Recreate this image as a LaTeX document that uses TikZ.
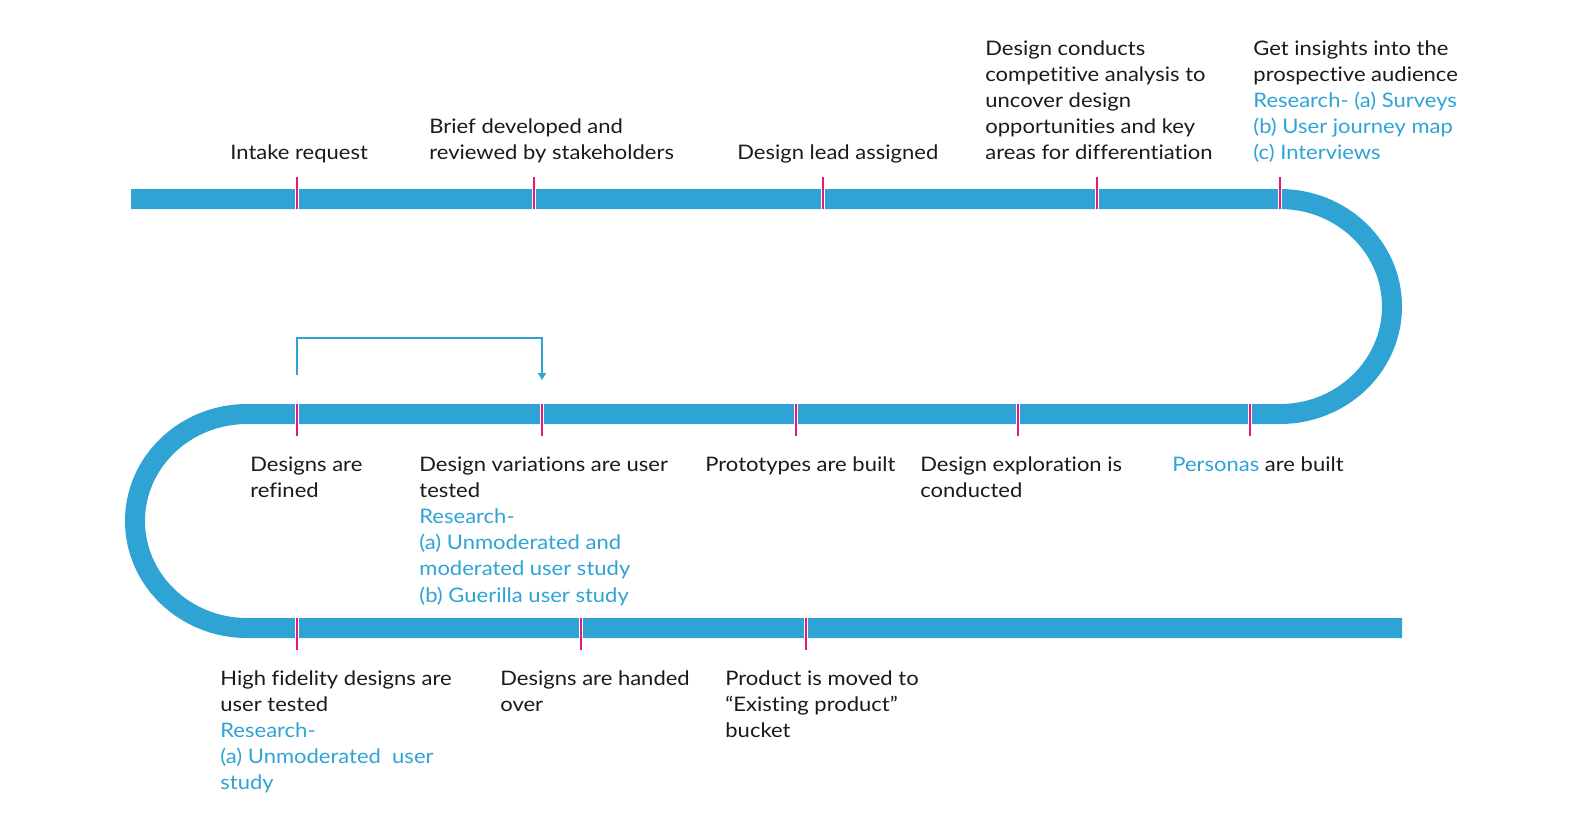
\documentclass[tikz,border=0pt]{standalone}
\usepackage{fontspec}
\setmainfont{Lato}[FakeStretch=1.1, Ligatures=NoCommon]
\usetikzlibrary{arrows.meta, positioning}
\definecolor{bandblue}{HTML}{2EA3D4}
\definecolor{tickpink}{HTML}{E5197D}
\definecolor{inkgray}{HTML}{1A1A1A}
\tikzset{
	x=0.5pt, y=-0.5pt, % one unit is one pixel of the sketch, y runs down
	band/.style={line width=10pt, draw=bandblue}, % the winding timeline
	tickgap/.style={line width=2pt, draw=white}, % white gap round a tick
	tickmark/.style={line width=1pt, draw=tickpink}, % the pink tick itself
	milestone/.style={anchor=north west, inner sep=0pt, align=left, text=inkgray, font=\fontsize{10}{13.1}\selectfont}, % text under/over a tick
	loopback/.style={line width=1pt, draw=bandblue, -{Triangle[length=3.5pt, width=4pt]}}, % the iterate arrow
}
\newcommand{\res}[1]{\textcolor{bandblue}{#1}}

\begin{document}
\begin{tikzpicture}
	\useasboundingbox (0,0) rectangle (1580,837);
	% ticks on the three runs
	\coordinate (t1) at (297,199);
	\coordinate (t2) at (534,199);
	\coordinate (t3) at (823,199);
	\coordinate (t4) at (1097,199);
	\coordinate (t5) at (1280,199);
	\coordinate (m1) at (297,414);
	\coordinate (m2) at (542,414);
	\coordinate (m3) at (796,414);
	\coordinate (m4) at (1018,414);
	\coordinate (m5) at (1250,414);
	\coordinate (b1) at (297,628);
	\coordinate (b2) at (581,628);
	\coordinate (b3) at (806,628);
	\coordinate (bandstart) at (131,199);
	\coordinate (bandend) at (1402,628);
	\draw[band] (bandstart) -- (t5)
		arc[start angle=90, end angle=-90, x radius=56pt, y radius=53.75pt] -- (247,414)
		arc[start angle=90, end angle=270, x radius=56pt, y radius=53.5pt] -- (bandend);
	\foreach \t in {t1,t2,t3,t4,t5}{
		\draw[tickgap] ([yshift=11pt]\t) -- ([yshift=-5pt]\t);
		\draw[tickmark] ([yshift=11pt]\t) -- ([yshift=-5pt]\t);
	}
	\foreach \t in {m1,m2,m3,m4,m5,b1,b2,b3}{
		\draw[tickgap] ([yshift=5pt]\t) -- ([yshift=-11pt]\t);
		\draw[tickmark] ([yshift=5pt]\t) -- ([yshift=-11pt]\t);
	}
	% loop back from refine to user tests
	\coordinate (lpA) at (297,375);
	\coordinate (lpB) at (542,380);
	\draw[loopback] (lpA) -- ++(0,-37) -| (lpB);
	% labels
	\node[milestone] (intake) at (230,144) {Intake request};
	\node[milestone] (brief) at (429,118) {Brief developed and\\reviewed by stakeholders};
	\node[milestone] (lead) at (737,144) {Design lead assigned};
	\node[milestone] (compete) at (985,40) {Design conducts\\competitive analysis to\\uncover design\\opportunities and key\\areas for differentiation};
	\node[milestone] (insight) at (1253,40) {Get insights into the\\prospective audience\\\res{Research- (a) Surveys}\\\res{(b) User journey map}\\\res{(c) Interviews}};
	\node[milestone] (refine) at (250,456) {Designs are\\refined};
	\node[milestone] (variation) at (419,456) {Design variations are user\\tested\\\res{Research-}\\\res{(a) Unmoderated and}\\\res{moderated user study}\\\res{(b) Guerilla user study}};
	\node[milestone] (proto) at (705,456) {Prototypes are built};
	\node[milestone] (explore) at (920,456) {Design exploration is\\conducted};
	\node[milestone] (persona) at (1172,456) {\res{Personas} are built};
	\node[milestone] (hifi) at (220,670) {High fidelity designs are\\user tested\\\res{Research-}\\\res{(a) Unmoderated\ \ user}\\\res{study}};
	\node[milestone] (handover) at (500,670) {Designs are handed\\over};
	\node[milestone] (moved) at (725,670) {Product is moved to\\“Existing product”\\bucket};
\end{tikzpicture}
\end{document}
